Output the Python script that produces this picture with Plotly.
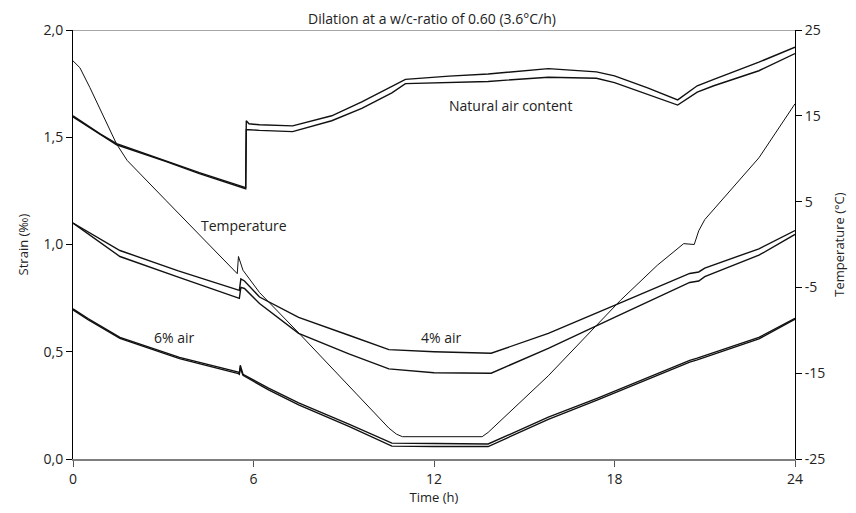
"""
    Dilation of concrete samples during a freeze/thaw cycle, strain on the left axis,
    chamber temperature on the right axis.
"""

##########==========##########==========##########==========##########==========##########==========
## HEADER
import plotly.graph_objects as go

##########==========##########==========##########==========##########==========##########==========
## DATA

TITLE = 'Dilation at a w/c-ratio of 0.60 (3.6°C/h)'

## natural air content (two samples)
TIME_NATURAL = [0, 0.9, 1.45, 3.1, 4.2, 5.74, 5.76, 5.85, 6.2, 7.3, 8.6, 9.6, 10.6, 11.05,
                12.5, 13.8, 15.8, 17.4, 18.0, 19.1, 20.1, 20.75, 21.3, 22.8, 24]
NATURAL_UPPER = [1.600, 1.516, 1.470, 1.390, 1.335, 1.265, 1.577, 1.563, 1.558, 1.553, 1.600,
                 1.665, 1.740, 1.770, 1.785, 1.795, 1.820, 1.805, 1.786, 1.730, 1.674, 1.740,
                 1.770, 1.850, 1.920]
NATURAL_LOWER = [1.595, 1.512, 1.465, 1.386, 1.330, 1.260, 1.535, 1.535, 1.532, 1.526, 1.577,
                 1.635, 1.707, 1.750, 1.755, 1.760, 1.780, 1.775, 1.755, 1.700, 1.650, 1.710,
                 1.740, 1.810, 1.890]

## 4% air (two samples)
TIME_4 = [0, 0.5, 1.56, 3.5, 5.53, 5.58, 5.7, 6.2, 7.5, 9.17, 10.5, 12.0, 13.9, 15.8, 17.44,
          18.0, 20.5, 20.8, 21.0, 22.8, 24]
AIR4_UPPER = [1.100, 1.060, 0.972, 0.877, 0.786, 0.840, 0.830, 0.755, 0.660, 0.577, 0.510,
              0.500, 0.493, 0.586, 0.685, 0.716, 0.865, 0.872, 0.890, 0.980, 1.065]
AIR4_LOWER = [1.100, 1.050, 0.944, 0.848, 0.749, 0.800, 0.795, 0.725, 0.586, 0.490, 0.420,
              0.402, 0.400, 0.516, 0.625, 0.660, 0.823, 0.830, 0.850, 0.950, 1.047]

## 6% air (two samples)
TIME_6 = [0, 0.5, 1.56, 3.54, 5.5, 5.53, 5.56, 5.65, 6.5, 7.5, 9.17, 10.6, 12.0, 13.8, 15.8,
          17.44, 20.5, 20.75, 22.8, 24]
AIR6_UPPER = [0.700, 0.655, 0.567, 0.474, 0.405, 0.400, 0.437, 0.395, 0.330, 0.262, 0.163,
              0.074, 0.072, 0.070, 0.195, 0.284, 0.460, 0.470, 0.567, 0.656]
AIR6_LOWER = [0.695, 0.650, 0.562, 0.468, 0.398, 0.395, 0.425, 0.390, 0.322, 0.252, 0.152,
              0.060, 0.058, 0.058, 0.185, 0.276, 0.452, 0.462, 0.560, 0.652]

## chamber temperature
TIME_TEMP = [0, 0.23, 0.56, 1.0, 1.45, 1.8, 2.45, 3.1, 5.46, 5.5, 5.65, 6.2, 7.5, 10.5, 10.75,
             10.95, 13.6, 13.8, 15.8, 17.44, 18.2, 19.43, 20.0, 20.3, 20.65, 20.8, 21.0, 22.8, 24]
TEMPERATURE = [21.4, 20.6, 18.3, 15.0, 11.7, 9.8, 7.4, 5.1, -3.4, -1.4, -3.0, -5.6, -10.3,
               -21.4, -22.1, -22.4, -22.4, -21.9, -15.3, -9.3, -6.5, -2.4, -0.7, 0.1, 0.0,
               1.6, 2.9, 10.1, 16.4]

TEMP_TICKS = [-25, -15, -5, 5, 15, 25]
TEMP_TICK_TEXT = ['-25', '-15', '-5', '5', '15', '25']

LABELS = {
    'Natural air content': (14.53, 1.647),
    'Temperature': (5.69, 1.088),
    '4% air': (12.25, 0.567),
    '6% air': (3.38, 0.567),
}

##########==========##########==========##########==========##########==========##########==========
## COMPONENT FUNCTIONS

## the page body keeps its default 8px margin, so the figure is sized and
## padded to land where the original plot area sits in the 856x513 window
PAGE_OFFSET = 8


def set_up_figure() -> go.Figure:
    """
        Purpose: Builds the empty figure with both y axes
        Returns: A plotly Figure object
    """
    fig = go.Figure()
    fig = fig.update_layout(
        width = 856 - PAGE_OFFSET, height = 513 - PAGE_OFFSET,
        plot_bgcolor = 'white', paper_bgcolor = 'white',
        font = dict(family = 'Open Sans', size = 14, color = '#222222'),
        separators = ',.',
        showlegend = False,
        margin = go.layout.Margin(l = 73 - PAGE_OFFSET, r = 58, t = 29 - PAGE_OFFSET, b = 54),
        title = dict(text = TITLE, x = 0.5, xanchor = 'center', y = 1, yanchor = 'top',
                     pad = dict(t = 6), font = dict(size = 14)),
        xaxis = dict(
            range = [0, 24], tick0 = 0, dtick = 6, ticks = 'outside', ticklen = 6,
            tickcolor = '#555555', showline = True, linecolor = '#7f7f7f', linewidth = 2,
            showgrid = False, zeroline = False,
            title = dict(text = 'Time (h)', standoff = 0, font = dict(size = 13))
            ),
        yaxis = dict(
            range = [0, 2], tick0 = 0, dtick = 0.5, tickformat = '.1f', ticks = 'outside',
            ticklen = 6, tickcolor = 'black', showline = True, linecolor = 'black',
            linewidth = 1, showgrid = False, zeroline = False,
            title = dict(text = 'Strain (‰)', standoff = 12, font = dict(size = 13))
            ),
        yaxis2 = dict(
            range = [-25, 25], overlaying = 'y', side = 'right',
            tickvals = TEMP_TICKS, ticktext = TEMP_TICK_TEXT, ticks = 'outside', ticklen = 6,
            tickcolor = 'black', showline = True, linecolor = 'black', linewidth = 1,
            showgrid = False, zeroline = False,
            title = dict(text = 'Temperature (°C)', standoff = 10, font = dict(size = 13))
            ),
    )
    ## grey frame line along the top of the plot area
    fig.add_shape(type = 'line', xref = 'paper', x0 = 0, x1 = 1, yref = 'y', y0 = 2, y1 = 2,
                  line = dict(color = '#a6a6a6', width = 2), layer = 'below')
    return fig


def draw_strain_pairs() -> list:
    """
        Purpose: One trace per sample, each air content drawn as a pair of lines
    """
    pairs = [
        (TIME_NATURAL, NATURAL_UPPER, NATURAL_LOWER),
        (TIME_4, AIR4_UPPER, AIR4_LOWER),
        (TIME_6, AIR6_UPPER, AIR6_LOWER),
    ]
    trace_list = list()
    for iter_time, iter_upper, iter_lower in pairs:
        for iter_y in (iter_upper, iter_lower):
            trace_list.append(go.Scatter(
                x = iter_time, y = iter_y, mode = 'lines', yaxis = 'y',
                line = dict(color = '#111111', width = 1.4), hoverinfo = 'skip'
                ))
    return trace_list


def draw_temperature() -> go.Scatter:
    return go.Scatter(
        x = TIME_TEMP, y = TEMPERATURE, mode = 'lines', yaxis = 'y2',
        line = dict(color = '#111111', width = 1), hoverinfo = 'skip'
        )


##########==========##########==========##########==========##########==========##########==========
## TOP-LEVEL

fig = set_up_figure()
fig = fig.add_traces(draw_strain_pairs() + [draw_temperature()])
for iter_text, (iter_x, iter_y) in LABELS.items():
    fig.add_annotation(x = iter_x, y = iter_y, xref = 'x', yref = 'y', text = iter_text,
                       showarrow = False, font = dict(size = 14))
fig.write_html('out.html')
